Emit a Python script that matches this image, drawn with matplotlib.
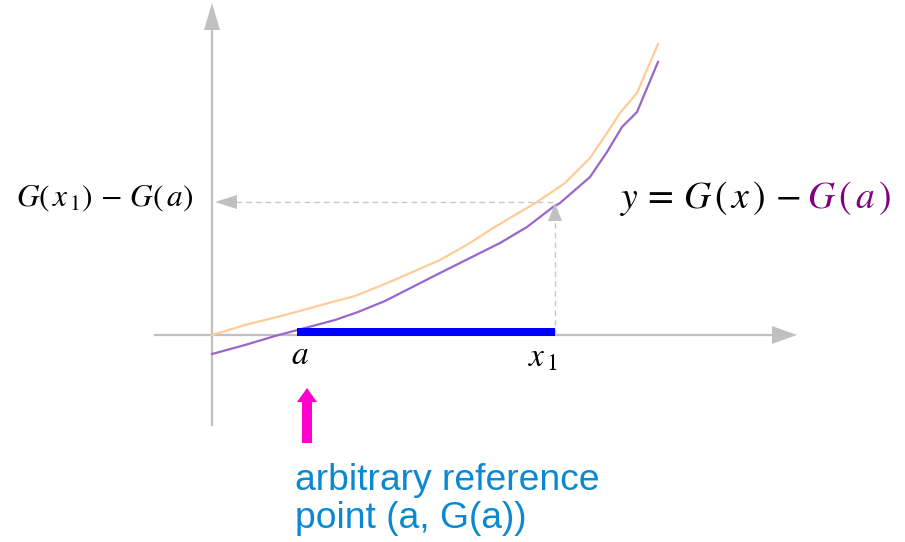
import matplotlib
matplotlib.use("Agg")
import matplotlib.pyplot as plt
import numpy as np
from matplotlib.patches import Polygon, Rectangle

# curve samples in diagram units (origin at the axes crossing, y up)
g_x = [0, 33, 73, 113, 143, 173, 228, 258, 281, 325, 353, 378, 395, 408, 425, 446]
g_y = [0, 10, 20, 31, 39, 51, 75, 92, 107, 133, 152, 177, 202, 222, 242, 291]
shift_x = [0, 33, 63, 93, 123, 146, 173, 228, 288, 315, 341, 348, 378, 395, 410,
           425, 446]
shift_y = [-19, -10, -1, 7, 15, 23, 34, 62, 92, 108, 128, 132, 158, 183, 208,
           223, 273]

a_pos = 85
x1_pos = 343
gx1_minus_ga = 133

x_axis = (-57, 585)
y_axis = (-90, 332)

AXIS_GREY = "#c0c0c0"
DASH_GREY = "#c8c8c8"
ORANGE = "#ffcc99"
PURPLE = "#9966cc"
BLUE = "#0000ff"
MAGENTA = "#ff00cc"
TEXT_BLUE = "#0a88d2"

plt.rcParams["mathtext.fontset"] = "stix"

fig = plt.figure(figsize=(9.05, 5.42), dpi=100)
ax = fig.add_axes([0, 0, 1, 1])
ax.set_xlim(-212, 693)
ax.set_ylim(-207, 335)
ax.axis("off")


def head(tip, direction, length, half):
    tip = np.array(tip, dtype=float)
    d = np.array(direction, dtype=float)
    n = np.array([-d[1], d[0]])
    base = tip - d * length
    return Polygon([tip, base + n * half, base - n * half], closed=True,
                   facecolor=AXIS_GREY, edgecolor="none", zorder=3)


# axes
ax.plot([x_axis[0], x_axis[1] - 24], [0, 0], color=AXIS_GREY, lw=1.6, zorder=1)
ax.add_patch(head((x_axis[1], 0), (1, 0), 25, 9))
ax.plot([0, 0], [y_axis[0], y_axis[1] - 26], color=AXIS_GREY, lw=1.6, zorder=1)
ax.add_patch(head((0, y_axis[1]), (0, 1), 27, 8))

# dashed guides
ax.plot([24, x1_pos], [gx1_minus_ga, gx1_minus_ga], color=DASH_GREY, lw=1,
        ls=(0, (4, 3)), zorder=1)
ax.add_patch(head((3, gx1_minus_ga), (-1, 0), 22, 7))
ax.plot([x1_pos, x1_pos], [0, gx1_minus_ga - 16], color=DASH_GREY, lw=1,
        ls=(0, (4, 3)), zorder=1)
ax.add_patch(head((x1_pos, gx1_minus_ga - 1), (0, 1), 18, 7))

# curves
ax.plot(g_x, g_y, color=ORANGE, lw=1.6, zorder=2, solid_joinstyle="round")
ax.plot(shift_x, shift_y, color=PURPLE, lw=1.6, zorder=2, solid_joinstyle="round")

# interval [a, x1]
ax.add_patch(Rectangle((a_pos, -1), x1_pos - a_pos, 8, facecolor=BLUE,
                       edgecolor="none", zorder=4))

# reference arrow
ax.add_patch(Polygon([(a_pos + 10, -53), (a_pos + 20, -67), (a_pos + 15, -67),
                      (a_pos + 15, -108), (a_pos + 5, -108), (a_pos + 5, -67),
                      (a_pos, -67)], closed=True, facecolor=MAGENTA,
                     edgecolor="none", zorder=4))

# labels
ax.text(a_pos + 3, -20, r"$a$", fontsize=24, ha="center", va="center")
ax.text(x1_pos - 12, -22, r"$x_{\,1}$", fontsize=24, ha="center", va="center")
ax.text(-107, 137, r"$G(\,x_{\,1})\,-\,G(\,a)$", fontsize=22.5,
        ha="center", va="center")
ax.text(589, 137, r"$y \,=\, G\,(\,x\,)\, -$", fontsize=27, ha="right",
        va="center")
ax.text(595, 137, r"$G\,(\,a\,)$", fontsize=27, ha="left", va="center",
        color="#800080")
ax.text(83, -128, "arbitrary reference\npoint (a, G(a))", fontsize=26.8,
        family="Liberation Sans", color=TEXT_BLUE, ha="left", va="top",
        linespacing=1.1)

fig.savefig("out.png", dpi=100)
